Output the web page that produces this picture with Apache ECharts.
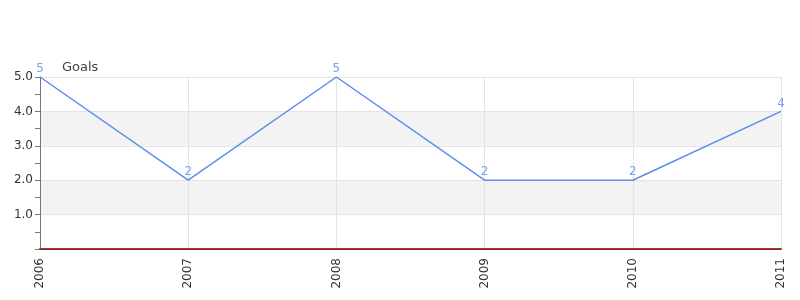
<!DOCTYPE html>
<html>
<head>
<meta charset="utf-8">
<script src="https://cdn.jsdelivr.net/npm/echarts@6/dist/echarts.min.js"></script>
<style>html,body{margin:0;padding:0;background:#fff}#c{width:800px;height:300px}</style>
</head>
<body>
<div id="c"></div>
<script>
var categories = ['2006', '2007', '2008', '2009', '2010', '2011'];
var goals = [5, 2, 5, 2, 2, 4];
var seriesName = 'Goals';

var chart = echarts.init(document.getElementById('c'), null, {renderer: 'canvas'});
chart.setOption({
  animation: false,
  textStyle: {fontFamily: 'DejaVu Sans'},
  legend: {
    data: [seriesName],
    left: 52, top: 56,
    icon: 'none', itemWidth: 0, itemGap: 0,
    textStyle: {fontSize: 13, color: '#444', fontFamily: 'DejaVu Sans'}
  },
  grid: {left: 40, right: 19, top: 77, bottom: 51, containLabel: false},
  xAxis: {
    type: 'category',
    data: categories,
    boundaryGap: false,
    axisLine: {lineStyle: {color: '#555', width: 2}},
    axisTick: {show: false},
    axisLabel: {rotate: 90, fontSize: 12, color: '#333', margin: 9},
    splitLine: {show: true, lineStyle: {color: '#e3e3e3'}}
  },
  yAxis: {
    type: 'value',
    min: 0, max: 5, interval: 1,
    axisLine: {show: true, lineStyle: {color: '#777'}},
    axisTick: {show: true, length: 5, lineStyle: {color: '#777'}},
    minorTick: {show: true, splitNumber: 2, length: 5, lineStyle: {color: '#777'}},
    axisLabel: {
      fontSize: 12, color: '#333', margin: 7,
      formatter: function (v) { return v === 0 ? '' : v.toFixed(1); }
    },
    splitLine: {show: true, lineStyle: {color: '#e3e3e3'}},
    splitArea: {show: true, areaStyle: {color: ['#ffffff', '#f3f3f3']}}
  },
  series: [{
    name: seriesName,
    type: 'line',
    data: goals,
    symbol: 'circle',
    symbolSize: 0,
    showSymbol: true,
    lineStyle: {color: '#5b8def', width: 1.5},
    itemStyle: {color: '#5b8def'},
    label: {show: true, position: 'top', distance: 2, color: '#7aa2ee', fontSize: 12},
    markLine: {
      silent: true,
      symbol: 'none',
      label: {show: false},
      lineStyle: {color: '#e00000', type: 'solid', width: 1},
      data: [{yAxis: 0}]
    }
  }]
});
</script>
</body>
</html>
